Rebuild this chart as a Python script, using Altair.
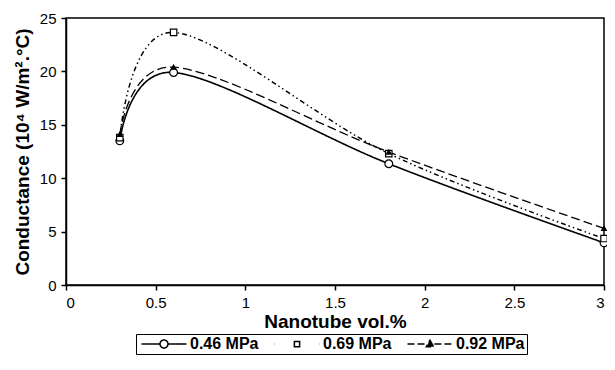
import altair as alt
import pandas as pd

# ---- data ----
x_vals = [0.3, 0.6, 1.8, 3.0]
series_names = ["0.46 MPa", "0.69 MPa", "0.92 MPa"]
y_046 = [13.5, 19.9, 11.35, 3.95]
y_069 = [13.8, 23.65, 12.3, 4.35]
y_092 = [14.1, 20.4, 12.45, 5.3]
x_ticks = [0, 0.5, 1, 1.5, 2, 2.5, 3]
y_ticks = [0, 5, 10, 15, 20, 25]

rows = []
for name, ys in zip(series_names, [y_046, y_069, y_092]):
    for xv, yv in zip(x_vals, ys):
        rows.append({"x": xv, "y": yv, "series": name})
df = pd.DataFrame(rows)

FONT = "Liberation Sans"

x_enc = alt.X(
    "x:Q",
    scale=alt.Scale(domain=[0, 3], nice=False),
    axis=alt.Axis(values=x_ticks, format="~g", title="Nanotube vol.%",
                  labelPadding=5, titlePadding=2),
)
y_enc = alt.Y(
    "y:Q",
    scale=alt.Scale(domain=[0, 25], nice=False),
    axis=alt.Axis(values=y_ticks, title="Conductance (10\u2074 W/m\u00b2.\u00b0C)",
                  labelPadding=5, titlePadding=7),
)

# legend key symbols: line segment + marker, drawn as one symbol path
# (units are sqrt(size)/2 = 3.5 px); every key spans the same x range
KEY_046 = ("M-1.286,0H4M6.286,0H11.571"
           "M6.286,0A1.143,1.143 0 1,1 4,0A1.143,1.143 0 1,1 6.286,0Z")
KEY_069 = "M-1.286,0H-1.2M11.5,0H11.571M4.393,-0.75H5.893V0.75H4.393Z"
KEY_092 = "M-1.286,0H3.9M6.4,0H11.571M5.143,-1.05L6.2,0.8H4.086Z"

lines = alt.Chart(df).mark_line(interpolate="cardinal", color="black").encode(
    x=x_enc,
    y=y_enc,
    strokeDash=alt.StrokeDash(
        "series:N",
        scale=alt.Scale(range=[[1, 0], [5, 3, 1.5, 3, 1.5, 3], [9, 4]]),
        legend=None,
    ),
    strokeWidth=alt.StrokeWidth(
        "series:N",
        scale=alt.Scale(range=[1.6, 1.3, 2.4]),
        legend=None,
    ),
)

points = alt.Chart(df).mark_point(filled=True, stroke="black", strokeWidth=1.2, opacity=1).encode(
    x=x_enc,
    y=y_enc,
    shape=alt.Shape(
        "series:N",
        scale=alt.Scale(range=["circle", "square", "triangle-up"]),
        legend=None,
    ),
    fill=alt.Fill(
        "series:N",
        scale=alt.Scale(range=["white", "white", "black"]),
        legend=None,
    ),
    size=alt.Size(
        "series:N",
        scale=alt.Scale(range=[60, 22, 35]),
        legend=None,
    ),
)

key_legend = alt.Legend(
    title=None, orient="none", direction="horizontal",
    legendX=70, legendY=316,
    symbolSize=49, symbolStrokeWidth=1.5, symbolStrokeColor="black",
    symbolOpacity=1,
    labelOffset=36, columnPadding=12, padding=2,
    strokeColor="black",
)

# invisible layer (first point of each series only) that carries the legend
legend_layer = alt.Chart(df).transform_filter(
    alt.datum.x < 0.5
).mark_point(filled=True, opacity=0, size=49).encode(
    x=x_enc,
    y=y_enc,
    shape=alt.Shape(
        "series:N",
        scale=alt.Scale(range=[KEY_046, KEY_069, KEY_092]),
        legend=key_legend,
    ),
    fill=alt.Fill(
        "series:N",
        scale=alt.Scale(range=["white", "white", "black"]),
        legend=key_legend,
    ),
    stroke=alt.Stroke(
        "series:N",
        scale=alt.Scale(range=["black", "black", "black"]),
        legend=key_legend,
    ),
    strokeDash=alt.StrokeDash(
        "series:N",
        scale=alt.Scale(range=[[1, 0], [1, 0], [7, 3]]),
        legend=key_legend,
    ),
)

chart = alt.layer(lines, points, legend_layer).resolve_scale(
    shape="independent", fill="independent", strokeDash="independent",
    size="independent", strokeWidth="independent", stroke="independent",
).properties(
    width=538,
    height=267,
    autosize=alt.AutoSizeParams(type="none"),
    padding={"left": 58, "top": 10, "right": 3, "bottom": 70},
).configure(
    font=FONT,
    background="white",
).configure_view(
    stroke="black", strokeWidth=1.5,
).configure_axis(
    grid=False,
    domainColor="black", domainWidth=1.5,
    tickColor="black", tickWidth=1.5, tickSize=5,
    labelFont=FONT, labelFontSize=15, labelColor="black",
    titleFont=FONT, titleFontSize=19, titleFontWeight="bold", titleColor="black",
).configure_legend(
    labelFont=FONT, labelFontSize=16, labelFontWeight="bold", labelColor="black",
)

chart.save("out.html", embed_options={"renderer": "svg", "actions": False})
